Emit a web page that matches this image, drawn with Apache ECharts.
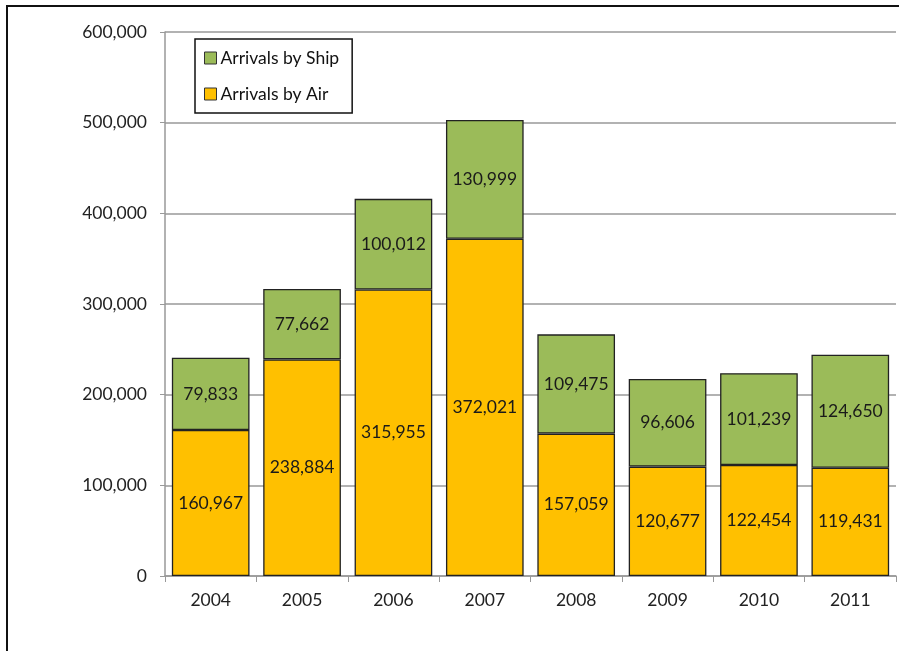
<!DOCTYPE html>
<html><head><meta charset="utf-8">
<script src="https://cdn.jsdelivr.net/npm/echarts@6/dist/echarts.min.js"></script>
<style>html,body{margin:0;padding:0;background:#fff}#c{width:899px;height:651px}</style>
</head><body><div id="c"></div>
<script>
const years = ['2004','2005','2006','2007','2008','2009','2010','2011'];
const air = [160967,238884,315955,372021,157059,120677,122454,119431];
const ship = [79833,77662,100012,130999,109475,96606,101239,124650];
const yTicks = [0,100000,200000,300000,400000,500000,600000];

const font = 'Lato, "Open Sans", sans-serif';
const fs = 17.5;
const chart = echarts.init(document.getElementById('c'));
const fmt = v => v.toLocaleString('en-US');
chart.setOption({
  animation:false,
  graphic:[{type:'rect',shape:{x:7,y:6,width:900,height:700},style:{fill:'none',stroke:'#111',lineWidth:2},silent:true}],
  grid:{left:165,right:3,top:32,bottom:75},
  legend:{
    orient:'vertical',left:195,top:39,
    data:['Arrivals by Ship','Arrivals by Air'],
    borderColor:'#111',borderWidth:1.5,padding:[10,13,10,9],itemGap:18,
    itemWidth:12,itemHeight:12,icon:'rect',
    textStyle:{fontFamily:font,fontSize:fs,color:'#111',padding:[0,0,0,-1]},
    itemStyle:{borderColor:'#333',borderWidth:1}
  },
  xAxis:{type:'category',data:years,
    axisLine:{lineStyle:{color:'#999',width:1.5}},
    axisTick:{show:true,length:6,lineStyle:{color:'#999'}},
    axisLabel:{fontFamily:font,fontSize:fs,color:'#222',margin:15}},
  yAxis:{type:'value',min:yTicks[0],max:yTicks[yTicks.length-1],interval:100000,
    axisLine:{show:true,lineStyle:{color:'#999',width:1.5}},
    axisTick:{show:true,length:5,lineStyle:{color:'#999'}},
    splitLine:{lineStyle:{color:'#999',width:1.5}},
    axisLabel:{fontFamily:font,fontSize:fs,color:'#222',margin:18,formatter:v=>fmt(v)}},
  series:[
    {name:'Arrivals by Air',type:'bar',stack:'t',data:air,barCategoryGap:'15%',
     itemStyle:{color:'#FFC000',borderColor:'#222',borderWidth:1.3},
     label:{show:true,position:'inside',fontFamily:font,fontSize:fs,color:'#1a1a1a',formatter:p=>fmt(p.value)}},
    {name:'Arrivals by Ship',type:'bar',stack:'t',data:ship,barCategoryGap:'15%',
     itemStyle:{color:'#9BBB59',borderColor:'#222',borderWidth:1.3},
     label:{show:true,position:'inside',fontFamily:font,fontSize:fs,color:'#1a1a1a',formatter:p=>fmt(p.value)}}
  ]
});
</script></body></html>
